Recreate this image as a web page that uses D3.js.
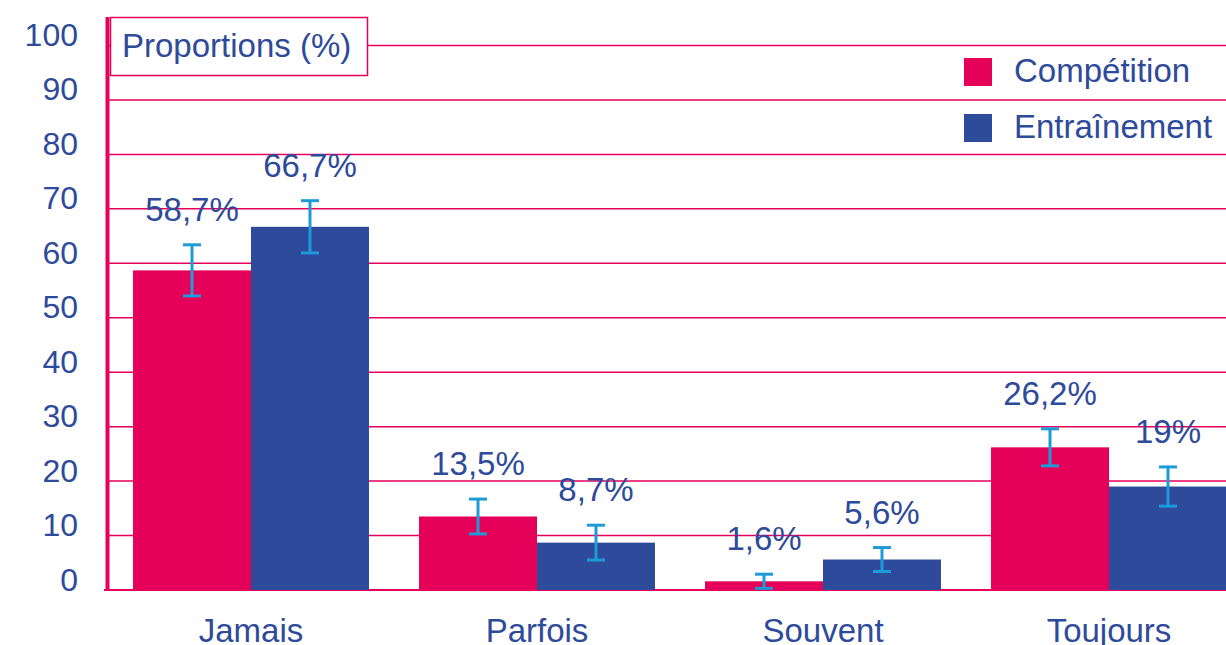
<!DOCTYPE html>
<html>
<head>
<meta charset="utf-8">
<script src="https://cdn.jsdelivr.net/npm/d3@7/dist/d3.min.js"></script>
<style>
  html, body { margin: 0; padding: 0; background: #fff; overflow: hidden; }
  svg { display: block; }
  text { font-family: "Liberation Sans", Arial, sans-serif; fill: #2E4A9A; }
</style>
</head>
<body>
<svg id="chart" width="1226" height="645"></svg>
<script>
// ---- data ----
const categories = ["Jamais", "Parfois", "Souvent", "Toujours"];
const seriesNames = ["Compétition", "Entraînement"];
const competition = [58.7, 13.5, 1.6, 26.2];
const entrainement = [66.7, 8.7, 5.6, 19.0];
const competitionErr = [4.7, 3.2, 1.3, 3.4];
const entrainementErr = [4.8, 3.2, 2.2, 3.6];
const competitionLabels = ["58,7%", "13,5%", "1,6%", "26,2%"];
const entrainementLabels = ["66,7%", "8,7%", "5,6%", "19%"];
const yTicks = [0, 10, 20, 30, 40, 50, 60, 70, 80, 90, 100];
const yTitle = "Proportions (%)";

// ---- styles ----
const RED = "#E5005A", BLUE = "#2E4B9B", ERR = "#1E9BD7", PINK = "#E6005C";

const svg = d3.select("#chart");

const y = d3.scaleLinear().domain([0, 100]).range([590, 45.5]);
const x = d3.scaleBand().domain(categories).range([108, 1252])
  .paddingInner(0.175).paddingOuter(0.0875);
const xs = d3.scaleBand().domain(seriesNames).range([0, x.bandwidth()]).padding(0);

const rows = categories.map((c, i) => ({
  cat: c,
  vals: [
    { s: seriesNames[0], v: competition[i], e: competitionErr[i], l: competitionLabels[i], color: RED },
    { s: seriesNames[1], v: entrainement[i], e: entrainementErr[i], l: entrainementLabels[i], color: BLUE }
  ]
}));

// gridlines
svg.append("g").selectAll("line").data(yTicks.filter(t => t > 0)).join("line")
  .attr("x1", 108).attr("x2", 1226)
  .attr("y1", d => y(d)).attr("y2", d => y(d))
  .attr("stroke", PINK).attr("stroke-width", 1.5);

// bottom axis line
svg.append("line").attr("x1", 104).attr("x2", 1226)
  .attr("y1", y(0)).attr("y2", y(0))
  .attr("stroke", PINK).attr("stroke-width", 2);

// y tick labels
svg.append("g").selectAll("text").data(yTicks).join("text")
  .attr("x", 78).attr("y", d => y(d) + 0.5)
  .attr("text-anchor", "end")
  .attr("font-size", 32)
  .text(d => d);

// bars
const groups = svg.append("g").selectAll("g").data(rows).join("g")
  .attr("transform", d => `translate(${x(d.cat)},0)`);

groups.selectAll("rect").data(d => d.vals).join("rect")
  .attr("x", d => xs(d.s))
  .attr("width", xs.bandwidth())
  .attr("y", d => y(d.v))
  .attr("height", d => y(0) - y(d.v))
  .attr("fill", d => d.color);

// error bars
const eb = groups.selectAll("g.err").data(d => d.vals).join("g").attr("class", "err")
  .attr("transform", d => `translate(${xs(d.s) + xs.bandwidth() / 2},0)`);
eb.append("line").attr("x1", 0).attr("x2", 0)
  .attr("y1", d => y(d.v + d.e)).attr("y2", d => y(Math.max(0, d.v - d.e)))
  .attr("stroke", ERR).attr("stroke-width", 3);
eb.append("line").attr("x1", -9).attr("x2", 9)
  .attr("y1", d => y(d.v + d.e)).attr("y2", d => y(d.v + d.e))
  .attr("stroke", ERR).attr("stroke-width", 3);
eb.append("line").attr("x1", -9).attr("x2", 9)
  .attr("y1", d => y(Math.max(0, d.v - d.e))).attr("y2", d => y(Math.max(0, d.v - d.e)))
  .attr("stroke", ERR).attr("stroke-width", 3);

// value labels
groups.selectAll("text.val").data(d => d.vals).join("text").attr("class", "val")
  .attr("x", d => xs(d.s) + xs.bandwidth() / 2)
  .attr("y", d => y(d.v + d.e) - 24)
  .attr("text-anchor", "middle")
  .attr("font-size", 33)
  .text(d => d.l);

// category labels
svg.append("g").selectAll("text").data(categories).join("text")
  .attr("x", d => x(d) + x.bandwidth() / 2)
  .attr("y", 642)
  .attr("text-anchor", "middle")
  .attr("font-size", 33)
  .text(d => d);

// left axis line
svg.append("line").attr("x1", 107.5).attr("x2", 107.5)
  .attr("y1", 17).attr("y2", y(0) + 1)
  .attr("stroke", PINK).attr("stroke-width", 4);

// title box
svg.append("rect").attr("x", 110.5).attr("y", 17.5).attr("width", 257).attr("height", 58)
  .attr("fill", "#fff").attr("stroke", PINK).attr("stroke-width", 1.5);
svg.append("text").attr("x", 122).attr("y", 57).attr("font-size", 33).text(yTitle);

// legend
const leg = svg.append("g").selectAll("g").data(seriesNames).join("g")
  .attr("transform", (d, i) => `translate(964,${58 + i * 56})`);
leg.append("rect").attr("width", 28).attr("height", 28)
  .attr("fill", (d, i) => i === 0 ? RED : BLUE);
leg.append("text").attr("x", 50).attr("y", 24).attr("font-size", 33).text(d => d);
</script>
</body>
</html>
